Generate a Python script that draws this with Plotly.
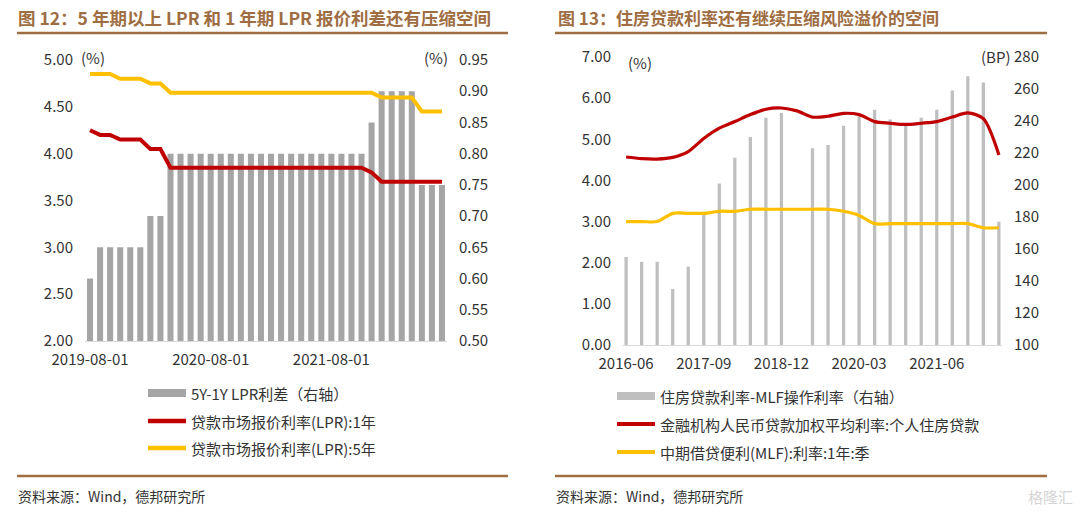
import plotly.graph_objects as go

W, H = 1080, 513
def px(x): return x / W
def py(y): return 1 - y / H

FONT = "Noto Sans CJK SC"
TXT = "#333333"
BROWN = "#9F6D42"
GRAY_L = "#A5A5A5"
GRAY_R = "#BFBFBF"
RED = "#C00000"
YEL = "#FFC000"

# ---------------- Left chart data (monthly) ----------------
left_months = [
    "2019-08-01", "2019-09-01", "2019-10-01", "2019-11-01", "2019-12-01",
    "2020-01-01", "2020-02-01", "2020-03-01", "2020-04-01", "2020-05-01",
    "2020-06-01", "2020-07-01", "2020-08-01", "2020-09-01", "2020-10-01",
    "2020-11-01", "2020-12-01", "2021-01-01", "2021-02-01", "2021-03-01",
    "2021-04-01", "2021-05-01", "2021-06-01", "2021-07-01", "2021-08-01",
    "2021-09-01", "2021-10-01", "2021-11-01", "2021-12-01", "2022-01-01",
    "2022-02-01", "2022-03-01", "2022-04-01", "2022-05-01", "2022-06-01",
    "2022-07-01",
]
lpr_spread = [
    0.60, 0.65, 0.65, 0.65, 0.65, 0.65, 0.70, 0.70, 0.80, 0.80,
    0.80, 0.80, 0.80, 0.80, 0.80, 0.80, 0.80, 0.80, 0.80, 0.80,
    0.80, 0.80, 0.80, 0.80, 0.80, 0.80, 0.80, 0.80, 0.85, 0.90,
    0.90, 0.90, 0.90, 0.75, 0.75, 0.75,
]
lpr_1y = [
    4.25, 4.20, 4.20, 4.15, 4.15, 4.15, 4.05, 4.05, 3.85, 3.85,
    3.85, 3.85, 3.85, 3.85, 3.85, 3.85, 3.85, 3.85, 3.85, 3.85,
    3.85, 3.85, 3.85, 3.85, 3.85, 3.85, 3.85, 3.85, 3.80, 3.70,
    3.70, 3.70, 3.70, 3.70, 3.70, 3.70,
]
lpr_5y = [
    4.85, 4.85, 4.85, 4.80, 4.80, 4.80, 4.75, 4.75, 4.65, 4.65,
    4.65, 4.65, 4.65, 4.65, 4.65, 4.65, 4.65, 4.65, 4.65, 4.65,
    4.65, 4.65, 4.65, 4.65, 4.65, 4.65, 4.65, 4.65, 4.65, 4.60,
    4.60, 4.60, 4.60, 4.45, 4.45, 4.45,
]
left_ticks = ["2019-08-01", "2020-08-01", "2021-08-01"]
left_names = ["5Y-1Y LPR利差（右轴）", "贷款市场报价利率(LPR):1年", "贷款市场报价利率(LPR):5年"]

# ---------------- Right chart data (quarterly) ----------------
quarters = [
    "2016-06", "2016-09", "2016-12", "2017-03", "2017-06", "2017-09",
    "2017-12", "2018-03", "2018-06", "2018-09", "2018-12", "2019-03",
    "2019-06", "2019-09", "2019-12", "2020-03", "2020-06", "2020-09",
    "2020-12", "2021-03", "2021-06", "2021-09", "2021-12", "2022-03",
    "2022-06",
]
mortgage_mlf_bp = [155, 152, 152, 135, 149, 182, 201, 217, 230, 242, 245, None,
                   223, 225, 237, 243, 247, 241, 237, 242, 247, 259, 268, 264, 177]
mortgage_rate = [4.57, 4.53, 4.52, 4.56, 4.70, 5.02, 5.27, 5.43, 5.60, 5.73, 5.76, 5.69,
                 5.54, 5.56, 5.63, 5.60, 5.43, 5.39, 5.36, 5.39, 5.43, 5.54, 5.64, 5.50, 4.62]
mlf_rate = [3.00, 3.00, 3.00, 3.20, 3.20, 3.20, 3.25, 3.25, 3.30, 3.30, 3.30, 3.30,
            3.30, 3.30, 3.25, 3.15, 2.95, 2.95, 2.95, 2.95, 2.95, 2.95, 2.95, 2.85, 2.85]
right_ticks = ["2016-06", "2017-09", "2018-12", "2020-03", "2021-06"]
right_names = ["住房贷款利率-MLF操作利率（右轴）", "金融机构人民币贷款加权平均利率:个人住房贷款",
               "中期借贷便利(MLF):利率:1年:季"]

fig = go.Figure()

# Left chart
fig.add_trace(go.Bar(x=left_months, y=lpr_spread, name=left_names[0], marker_color=GRAY_L,
                     width=0.6, xaxis="x", yaxis="y", showlegend=False))
fig.add_trace(go.Scatter(x=left_months, y=lpr_1y, name=left_names[1], mode="lines",
                         line=dict(color=RED, width=4), xaxis="x", yaxis="y2", showlegend=False))
fig.add_trace(go.Scatter(x=left_months, y=lpr_5y, name=left_names[2], mode="lines",
                         line=dict(color=YEL, width=4), xaxis="x", yaxis="y2", showlegend=False))

# Right chart
fig.add_trace(go.Bar(x=quarters, y=mortgage_mlf_bp, name=right_names[0], marker_color=GRAY_R,
                     width=0.21, xaxis="x2", yaxis="y3", showlegend=False))
fig.add_trace(go.Scatter(x=quarters, y=mortgage_rate, name=right_names[1], mode="lines",
                         line=dict(color=RED, width=3.2, shape="spline", smoothing=0.8),
                         xaxis="x2", yaxis="y4", showlegend=False))
fig.add_trace(go.Scatter(x=quarters, y=mlf_rate, name=right_names[2], mode="lines",
                         line=dict(color=YEL, width=3.2, shape="spline", smoothing=0.8),
                         xaxis="x2", yaxis="y4", showlegend=False))

tickf = dict(family=FONT, size=15, color=TXT)
common_y = dict(showgrid=False, zeroline=False, showline=False, ticks="", tickfont=tickf,
                ticklabelstandoff=11, automargin=False)

fig.update_layout(
    template="none",
    width=W, height=H, autosize=False,
    margin=dict(l=0, r=0, t=0, b=0, pad=0, autoexpand=False),
    paper_bgcolor="white", plot_bgcolor="white",
    font=dict(family=FONT, color=TXT),
    showlegend=False,
    xaxis=dict(domain=[px(85), px(447)], anchor="y", type="category", range=[-0.5, 35.5],
               showline=True, linecolor="#D9D9D9", linewidth=1, showgrid=False, ticks="",
               zeroline=False, automargin=False,
               tickvals=left_ticks, ticktext=left_ticks, tickfont=tickf, ticklabelstandoff=5),
    yaxis=dict(domain=[py(341), py(60)], anchor="x", side="right", range=[0.5, 0.95],
               tickvals=[0.50, 0.55, 0.60, 0.65, 0.70, 0.75, 0.80, 0.85, 0.90, 0.95],
               tickformat=".2f", **common_y),
    yaxis2=dict(overlaying="y", anchor="x", side="left", range=[2, 5],
                tickvals=[2.0, 2.5, 3.0, 3.5, 4.0, 4.5, 5.0], tickformat=".2f", **common_y),
    xaxis2=dict(domain=[px(623), px(1002)], anchor="y3", type="category", range=[-0.2, 24.2],
                showline=True, linecolor="#D9D9D9", linewidth=1, showgrid=False, ticks="",
                zeroline=False, automargin=False,
                tickvals=right_ticks, ticktext=right_ticks, tickfont=tickf, ticklabelstandoff=5),
    yaxis3=dict(domain=[py(345), py(57)], anchor="x2", side="right", range=[100, 280],
                tickvals=[100, 120, 140, 160, 180, 200, 220, 240, 260, 280], tickformat="d",
                **common_y),
    yaxis4=dict(overlaying="y3", anchor="x2", side="left", range=[0, 7],
                tickvals=[0, 1, 2, 3, 4, 5, 6, 7], tickformat=".2f", **common_y),
)

ann = []
shapes = []
def text(x, y, s, size=14, color=TXT, xanchor="left", bold=False):
    ann.append(dict(x=px(x), y=py(y), xref="paper", yref="paper", text=(f"<b>{s}</b>" if bold else s),
                    showarrow=False, xanchor=xanchor, yanchor="middle", borderpad=0,
                    font=dict(family=FONT, size=size, color=color)))

# Titles and rules
text(17, 17, "图 12：5 年期以上 LPR 和 1 年期 LPR 报价利差还有压缩空间", size=17.5, color=BROWN, bold=True)
text(557, 17, "图 13：住房贷款利率还有继续压缩风险溢价的空间", size=17, color=BROWN, bold=True)
for x0, x1 in [(17, 508), (555, 1047)]:
    shapes.append(dict(type="line", xref="paper", yref="paper", x0=px(x0), x1=px(x1),
                       y0=py(33), y1=py(33), line=dict(color=BROWN, width=2.5)))
    shapes.append(dict(type="line", xref="paper", yref="paper", x0=px(x0), x1=px(x1),
                       y0=py(476), y1=py(476), line=dict(color=BROWN, width=2.5)))

# Unit labels
text(80, 57, "(%)", size=15)
text(423, 57, "(%)", size=15)
text(627, 63, "(%)", size=15)
text(980, 56, "(BP)", size=15)

# Legends (manual, wide swatches)
def legend_block(x0, x1, tx, ys, names, colors, kinds, lw):
    for y, nm, c, k in zip(ys, names, colors, kinds):
        if k == "bar":
            shapes.append(dict(type="rect", xref="paper", yref="paper", x0=px(x0), x1=px(x1),
                               y0=py(y + 4), y1=py(y - 4), fillcolor=c, line=dict(width=0)))
        else:
            shapes.append(dict(type="line", xref="paper", yref="paper", x0=px(x0), x1=px(x1),
                               y0=py(y), y1=py(y), line=dict(color=c, width=lw)))
        text(tx, y, nm, size=15)

legend_block(148, 186, 190, [393, 421, 448], left_names, [GRAY_L, RED, YEL],
             ["bar", "line", "line"], 4.5)
legend_block(617, 655, 659, [396, 424, 452], right_names, [GRAY_R, RED, YEL],
             ["bar", "line", "line"], 4)

# Source
text(17, 496, "资料来源：Wind，德邦研究所", size=14)
text(555, 496, "资料来源：Wind，德邦研究所", size=14)
text(1074, 496, "格隆汇", size=15, color="#D5D5D5", xanchor="right")

fig.update_layout(annotations=ann, shapes=shapes)
# remove the default 8px page margin so the 1080x513 figure fills the window exactly
fig.write_html("out.html", config={"displayModeBar": False},
               post_script="document.body.style.margin='0px';")
